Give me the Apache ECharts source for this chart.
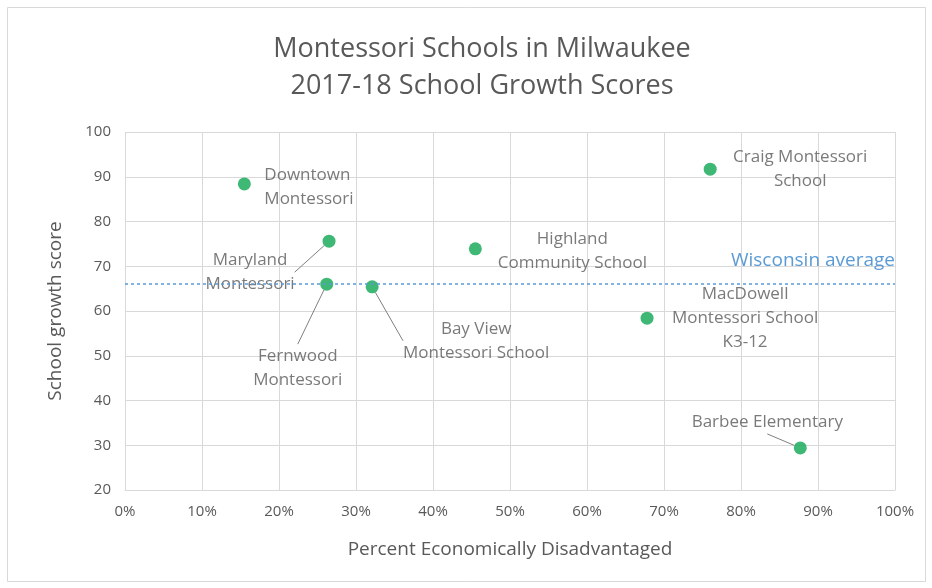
<!DOCTYPE html>
<html>
<head>
<meta charset="utf-8">
<title>Montessori Schools in Milwaukee</title>
<script src="https://cdn.jsdelivr.net/npm/echarts@6/dist/echarts.min.js"></script>
<style>
  html, body { margin: 0; padding: 0; background: #fff; }
  #chart { width: 932px; height: 588px; }
</style>
</head>
<body>
<div id="chart"></div>
<script>
// Data
var schools = ['Downtown\nMontessori', 'Maryland\nMontessori', 'Fernwood\nMontessori',
    'Bay View\nMontessori School', 'Highland\nCommunity School', 'Craig Montessori\nSchool',
    'MacDowell\nMontessori School\nK3-12', 'Barbee Elementary'];
var pctDisadvantaged = [15.5, 26.5, 26.2, 32.1, 45.5, 76.0, 67.8, 87.7];
var growthScore = [88.4, 75.6, 66.0, 65.4, 73.9, 91.7, 58.4, 29.4];
var wisconsinAverage = 66;
var xTicks = [0, 10, 20, 30, 40, 50, 60, 70, 80, 90, 100];

// Label placement (pixels from each point)
var labelOffsets = [
    { dx: 20, dy: 3, align: 'left' },
    { dx: -79, dy: 31 },
    { dx: -29, dy: 84 },
    { dx: 104, dy: 54 },
    { dx: 97, dy: 2 },
    { dx: 90, dy: 0 },
    { dx: 98, dy: 0 },
    { dx: -33, dy: -26 }
];
var withLeader = [false, true, true, true, false, false, false, true];

var chart = echarts.init(document.getElementById('chart'));

var points = schools.map(function (name, i) {
    return {
        name: name,
        value: [pctDisadvantaged[i], growthScore[i]],
        label: { align: labelOffsets[i].align || 'center' },
        labelLine: { show: withLeader[i] }
    };
});

var option = {
    animation: false,
    textStyle: { fontFamily: '"Open Sans", sans-serif', color: '#595959' },
    title: {
        text: 'Montessori Schools in Milwaukee\n2017-18 School Growth Scores',
        left: 477,
        top: 26,
        textAlign: 'center',
        textStyle: { fontSize: 27, fontWeight: 'normal', color: '#595959', lineHeight: 37, fontFamily: '"Open Sans", sans-serif' }
    },
    graphic: [{
        type: 'rect',
        shape: { x: 7.5, y: 7.5, width: 918, height: 574 },
        style: { fill: 'none', stroke: '#d9d9d9', lineWidth: 1 },
        silent: true
    }],
    grid: { left: 125, right: 37, top: 132, bottom: 98 },
    xAxis: {
        type: 'value',
        min: xTicks[0],
        max: xTicks[xTicks.length - 1],
        interval: 10,
        name: 'Percent Economically Disadvantaged',
        nameLocation: 'middle',
        nameGap: 50,
        nameTextStyle: { fontSize: 19, color: '#595959' },
        axisLine: { show: true, lineStyle: { color: '#d9d9d9' } },
        axisTick: { show: false },
        axisLabel: { formatter: '{value}%', fontSize: 15, color: '#595959', margin: 14 },
        splitLine: { show: true, lineStyle: { color: '#d9d9d9' } }
    },
    yAxis: {
        type: 'value',
        min: 20,
        max: 100,
        interval: 10,
        name: 'School growth score',
        nameLocation: 'middle',
        nameGap: 60,
        nameTextStyle: { fontSize: 19, color: '#595959' },
        axisLine: { show: false },
        axisTick: { show: false },
        axisLabel: { fontSize: 15, color: '#595959', margin: 14 },
        splitLine: { show: true, lineStyle: { color: '#d9d9d9' } }
    },
    series: [{
        type: 'scatter',
        symbolSize: 13,
        itemStyle: { color: '#0fa552' },
        data: points,
        label: {
            show: true,
            position: 'inside',
            formatter: '{b}',
            fontSize: 17,
            lineHeight: 24,
            color: '#595959'
        },
        labelLine: {
            lineStyle: { color: '#7f7f7f', width: 1 }
        },
        labelLayout: function (params) {
            var o = labelOffsets[params.dataIndex];
            return { dx: o.dx, dy: o.dy };
        },
        markLine: {
            silent: true,
            symbol: 'none',
            lineStyle: { type: [3, 3], color: '#5b9bd5', width: 1.5 },
            label: {
                show: true,
                position: 'insideEndTop',
                formatter: 'Wisconsin average',
                color: '#5b9bd5',
                fontSize: 19,
                distance: [0, 14]
            },
            data: [{ yAxis: wisconsinAverage }]
        }
    }]
};

chart.setOption(option);
</script>
</body>
</html>
